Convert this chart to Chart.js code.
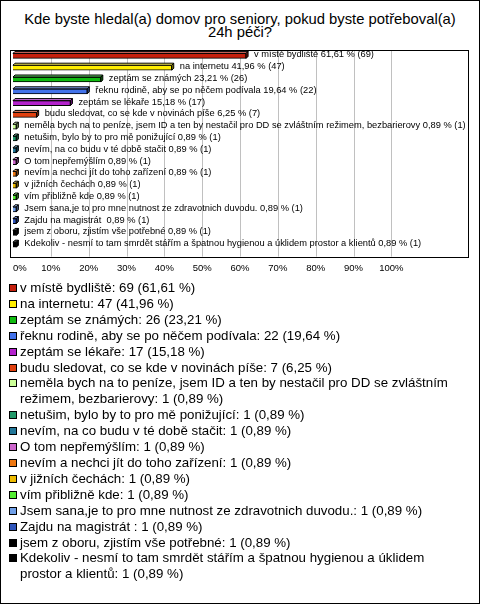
<!DOCTYPE html>
<html>
<head>
<meta charset="utf-8">
<script src="https://cdn.jsdelivr.net/npm/chart.js@4/dist/chart.umd.min.js"></script>
<style>
  body { margin: 0; background: #fff; font-family: "Liberation Sans", Arial, sans-serif; }
  #wrap { position: relative; width: 478px; height: 602px; border: 1px solid #000; overflow: hidden; }
  #title { position: absolute; left: 0; top: 12px; width: 478px; text-align: center; font-size: 14.8px; line-height: 13px; color: #000; }
  #chart { position: absolute; left: 0; top: 0; }
  #legend { position: absolute; left: 0; top: 279px; width: 462px; font-size: 13.3px; line-height: 15.9px; color: #000; }
  .item { position: relative; padding-left: 19px; }
  .sw { position: absolute; left: 8px; top: 4px; width: 6px; height: 6px; border: 1px solid #000; }
</style>
</head>
<body>
<div id="wrap">
  <div id="title">Kde byste hledal(a) domov pro seniory, pokud byste potřeboval(a)<br>24h péči?</div>
  <canvas id="chart" width="478" height="292"></canvas>
  <div id="legend"></div>
</div>
<script>
// answers, in the order of the chart
const categories = [
    'v místě bydliště',
    'na internetu',
    'zeptám se známých',
    'řeknu rodině, aby se po něčem podívala',
    'zeptám se lékaře',
    'budu sledovat, co se kde v novinách píše',
    'neměla bych na to peníze, jsem ID a ten by nestačil pro DD se zvláštním režimem, bezbarierovy',
    'netušim, bylo by to pro mě ponižující',
    'nevím, na co budu v té době stačit',
    'O tom nepřemýšlím',
    'nevím a nechci jít do toho zařízení',
    'v jižních čechách',
    'vím přibližně kde',
    'Jsem sana,je to pro mne nutnost ze zdravotnich duvodu.',
    'Zajdu na magistrát ',
    'jsem z oboru, zjistím vše potřebné',
    'Kdekoliv - nesmí to tam smrdět stářím a špatnou hygienou a úklidem prostor a klientů'
];
const counts = [69, 47, 26, 22, 17, 7, 1, 1, 1, 1, 1, 1, 1, 1, 1, 1, 1];
const percents = [61.61, 41.96, 23.21, 19.64, 15.18, 6.25, 0.89, 0.89, 0.89, 0.89, 0.89, 0.89, 0.89, 0.89, 0.89, 0.89, 0.89];
const colors = [
    '#c41f0c', '#ffee00', '#11bb11', '#4272ea', '#b322cc', '#e0400f',
    '#ccff99', '#22996a', '#227799', '#cc66cc', '#ee7711', '#eebb00',
    '#55ee33', '#6f9fe8', '#2f55bb', '#000000', '#000000'
];
const tickMax = 100;

function fmt(v) {
    return v.toFixed(2).replace('.', ',');
}

// lighten / darken a hex colour
function shade(hex, f) {
    const n = parseInt(hex.slice(1), 16);
    let r = (n >> 16) & 255, g = (n >> 8) & 255, b = n & 255;
    if (f > 0) {
        r += (255 - r) * f; g += (255 - g) * f; b += (255 - b) * f;
    } else {
        r *= 1 + f; g *= 1 + f; b *= 1 + f;
    }
    return 'rgb(' + Math.round(r) + ',' + Math.round(g) + ',' + Math.round(b) + ')';
}

// frame + grid lines
const framePlugin = {
    id: 'frame',
    beforeDatasetsDraw(chart) {
        const ctx = chart.ctx;
        const a = chart.chartArea;
        const xs = chart.scales.x;
        const top = a.top, bottom = a.bottom + 6;
        ctx.save();
        ctx.strokeStyle = '#c0c0c0';
        ctx.lineWidth = 1;
        for (let v = 10; v <= tickMax; v += 10) {
            const px = Math.round(xs.getPixelForValue(v)) + 0.5;
            ctx.beginPath();
            ctx.moveTo(px, top);
            ctx.lineTo(px, bottom);
            ctx.stroke();
        }
        ctx.strokeStyle = '#000';
        ctx.strokeRect(Math.round(a.left) - 2.5, Math.round(top) + 0.5,
            Math.round(a.right - a.left) + 4, Math.round(bottom - top));
        ctx.restore();
    }
};

// 3D faces and value labels
const barPlugin = {
    id: 'bar3d',
    afterDatasetsDraw(chart) {
        const ctx = chart.ctx;
        const meta = chart.getDatasetMeta(0);
        const d = 2;
        ctx.save();
        ctx.lineWidth = 1;
        ctx.strokeStyle = '#000';
        meta.data.forEach((el, i) => {
            const p = el.getProps(['x', 'y', 'base', 'height'], true);
            const top = p.y - p.height / 2;
            ctx.fillStyle = shade(colors[i], 0.35);
            ctx.beginPath();
            ctx.moveTo(p.base, top);
            ctx.lineTo(p.base + d, top - d);
            ctx.lineTo(p.x + d, top - d);
            ctx.lineTo(p.x, top);
            ctx.closePath();
            ctx.fill();
            ctx.stroke();
            ctx.fillStyle = shade(colors[i], -0.45);
            ctx.beginPath();
            ctx.moveTo(p.x, top);
            ctx.lineTo(p.x + d, top - d);
            ctx.lineTo(p.x + d, top - d + p.height);
            ctx.lineTo(p.x, top + p.height);
            ctx.closePath();
            ctx.fill();
            ctx.stroke();

            ctx.fillStyle = '#000';
            ctx.font = '9.3px "Liberation Sans", Arial, sans-serif';
            ctx.textBaseline = 'middle';
            ctx.textAlign = 'left';
            ctx.fillText(categories[i] + ' ' + fmt(percents[i]) + ' % (' + counts[i] + ')', p.x + 8, p.y - 1);
        });
        ctx.restore();
    }
};

new Chart(document.getElementById('chart'), {
    type: 'bar',
    data: {
        labels: categories,
        datasets: [{
            data: percents,
            backgroundColor: colors,
            borderColor: '#000',
            borderWidth: 1,
            barThickness: 5
        }]
    },
    options: {
        indexAxis: 'y',
        responsive: false,
        animation: false,
        devicePixelRatio: 1,
        layout: { padding: { left: 11, right: 10, top: 49, bottom: 7 } },
        scales: {
            x: {
                min: 0,
                max: 120,
                grid: { display: false, drawTicks: false },
                border: { display: false },
                ticks: {
                    stepSize: 10,
                    autoSkip: false,
                    maxRotation: 0,
                    align: 'inner',
                    padding: 12,
                    color: '#000',
                    font: { family: '"Liberation Sans", Arial, sans-serif', size: 9.5 },
                    callback: v => v <= tickMax ? v + '%' : ''
                }
            },
            y: { display: false }
        },
        plugins: { legend: { display: false }, tooltip: { enabled: false } }
    },
    plugins: [framePlugin, barPlugin]
});

// legend below the chart
const legend = document.getElementById('legend');
categories.forEach((c, i) => {
    const item = document.createElement('div');
    item.className = 'item';
    const sw = document.createElement('span');
    sw.className = 'sw';
    sw.style.background = colors[i];
    item.appendChild(sw);
    item.appendChild(document.createTextNode(c + ': ' + counts[i] + ' (' + fmt(percents[i]) + ' %)'));
    legend.appendChild(item);
});
</script>
</body>
</html>
